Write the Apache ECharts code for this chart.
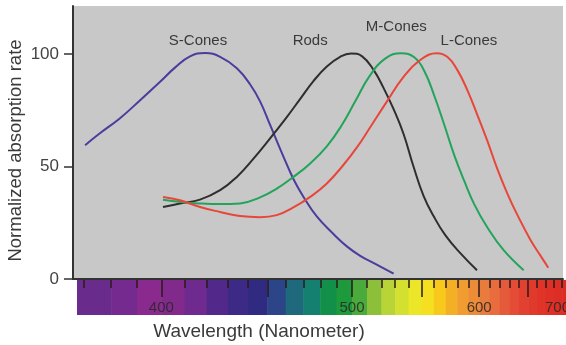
<!DOCTYPE html>
<html>
<head>
<meta charset="utf-8">
<style>
  html, body { margin: 0; padding: 0; background: #fff; }
  #chart { width: 566px; height: 345px; }
</style>
<script src="https://cdn.jsdelivr.net/npm/echarts@6/dist/echarts.min.js"></script>
</head>
<body>
<div id="chart"></div>
<script>
// wavelength (nm) -> absorption (%)
const sCones = [[370.3, 59.5], [375.7, 64.8], [383.3, 71.5], [391.2, 79.5], [399.4, 87.7], [405.7, 94], [412.3, 99],
  [419.1, 100.5], [426.2, 98.8], [434.3, 93.7], [441.0, 86.5], [446.1, 79], [451.4, 68.5], [458.7, 54.3],
  [464.2, 44.5], [470.0, 36.5], [477.8, 27.8], [488.0, 20], [496.5, 14.5], [505.3, 10.3], [516.3, 6.5], [528.7, 2.4]];
const rods = [[400.6, 32], [407.9, 33.6], [416.8, 35.3], [426.2, 39.5], [434.3, 45.4], [442.7, 53.5], [451.4, 62.5],
  [460.5, 72], [468.0, 80], [475.8, 88], [483.9, 94.5], [492.2, 98.8], [499.3, 100.3], [506.6, 99], [514.4, 93],
  [521.4, 85], [528.7, 75.5], [536.1, 64.5], [543.7, 50], [551.6, 37], [559.7, 28], [569.5, 19.5], [582.6, 11.5],
  [597.8, 3.9]];
const mCones = [[400.6, 35.2], [407.9, 34.3], [416.8, 33.6], [426.2, 33.3], [435.9, 33.6], [446.1, 36.3],
  [455.0, 40.2], [464.2, 45.4], [473.9, 51.4], [483.9, 59], [492.9, 68], [502.0, 79], [511.4, 90], [522.6, 98],
  [534.4, 100.4], [544.3, 98.6], [552.2, 92.5], [560.3, 81.5], [568.7, 68.5], [577.3, 55], [586.2, 43.5],
  [595.3, 33.2], [607.6, 23], [623.9, 12.8], [645.0, 3.9]];
const lCones = [[400.6, 36.5], [407.9, 35], [416.8, 32], [426.2, 29.8], [435.9, 28], [446.1, 27.5], [455.0, 28.4],
  [464.2, 31.8], [473.9, 36.5], [483.9, 42.5], [494.4, 50.8], [503.1, 58.5], [512.1, 67.5], [523.9, 79],
  [536.1, 89.9], [549.0, 97.4], [562.5, 100.4], [571.2, 98.8], [579.9, 93], [588.9, 84], [598.1, 73],
  [607.6, 61.5], [617.5, 49], [627.7, 38], [638.2, 28.5], [652.4, 17.5], [663.7, 10.5], [673.1, 5]];

// spectrum bar: 10 nm bands
const bandStarts = [360, 370, 380, 390, 400, 410, 420, 430, 440, 450, 460, 470, 480, 490, 500, 510, 520, 530,
  540, 550, 560, 570, 580, 590, 600, 610, 620, 630, 640, 650, 660, 670, 680, 690];
const bandColors = ['#6a2c8c', '#6a2c8c', '#742a8e', '#8a2a8e', '#822a8c', '#6e2a8e', '#52288a', '#3c2a86', '#302a80',
  '#2c4488', '#1e6a7c', '#148070', '#12904a', '#1e9a3c', '#4aaa3c', '#8cc03a', '#b8d436', '#d4e030',
  '#ece628', '#f4e020', '#f8c81c', '#f4b024', '#f09c30', '#ec8c38', '#e87c3c', '#e86c3e', '#e65a3c',
  '#e44c36', '#e24030', '#e03a2c', '#e03428', '#de3026', '#dc2e24', '#da2c22'];
const minorTicks = [370, 380, 390, 400, 410, 420, 430, 440, 450, 460, 470, 480, 490, 500, 510, 520, 530, 540,
  550, 560, 570, 580, 590, 600, 610, 620, 630, 640, 650, 660, 670, 680, 690];
const majorTicks = [400, 450, 500, 550, 600, 650, 700];
const xLabels = [400, 500, 600, 700];
const yLabels = [0, 50, 100];

// the x scale is linear in wavenumber, so plot -1e4/wavelength
const toK = l => -10000 / l;
const fromK = k => Math.round(-10000 / k);

const font = 'Liberation Sans, Arial, sans-serif';
const tickColor = '#2a1a1a';
const chart = echarts.init(document.getElementById('chart'));

const curve = (name, data, color, offset) => ({
  name: name,
  type: 'line',
  xAxisIndex: 0,
  yAxisIndex: 0,
  smooth: 0.45,
  symbol: 'none',
  data: data.map(p => [toK(p[0]), p[1]]),
  lineStyle: { color: color, width: 2 },
  itemStyle: { color: color },
  markPoint: {
    symbol: 'circle',
    symbolSize: 0,
    data: [{ type: 'max' }],
    label: {
      show: true,
      position: 'top',
      distance: 5,
      offset: offset,
      formatter: name,
      color: '#3a3a3a',
      fontSize: 15,
      fontFamily: font
    }
  }
});

chart.setOption({
  animation: false,
  grid: [
    { left: 73, right: 3, top: 6, bottom: 66, show: true, backgroundColor: '#c8c8c8', borderWidth: 0, outerBoundsMode: 'none' },
    { left: 77, right: -4, top: 280, height: 35, outerBoundsMode: 'none' }
  ],
  xAxis: [
    {
      type: 'value', gridIndex: 0, min: toK(366), max: toK(691),
      axisLine: { show: true, onZero: false, lineStyle: { color: '#333', width: 2 } },
      axisTick: { show: false }, axisLabel: { show: false }, splitLine: { show: false },
      name: 'Wavelength (Nanometer)', nameLocation: 'middle', nameGap: 43,
      nameTextStyle: { fontSize: 19, color: '#3a3a3a', fontFamily: font, padding: [0, 118, 0, 0] }
    },
    {
      type: 'value', gridIndex: 1, position: 'top', min: toK(367.5), max: toK(700), z: 10,
      axisLine: { show: false, onZero: false }, splitLine: { show: false }, axisLabel: { show: false },
      axisTick: { show: true, inside: true, length: 8, customValues: minorTicks.map(toK),
        lineStyle: { color: tickColor, width: 1.5 } }
    },
    {
      type: 'value', gridIndex: 1, position: 'top', min: toK(367.5), max: toK(700), z: 10,
      axisLine: { show: false, onZero: false }, splitLine: { show: false },
      axisTick: { show: true, inside: true, length: 17, customValues: majorTicks.map(toK),
        lineStyle: { color: tickColor, width: 1.5 } },
      axisLabel: { show: true, inside: true, margin: 20, customValues: xLabels.map(toK),
        formatter: v => String(fromK(v)), alignMaxLabel: 'right',
        fontSize: 15, color: 'rgba(40,40,40,0.85)', fontFamily: font }
    }
  ],
  yAxis: [
    {
      type: 'value', gridIndex: 0, min: 0, max: 121.4,
      axisLine: { show: true, onZero: false, lineStyle: { color: '#333', width: 2 } },
      axisTick: { show: true, length: 9, customValues: yLabels, lineStyle: { color: '#333', width: 1.5 } },
      axisLabel: { show: true, margin: 14, customValues: yLabels, fontSize: 17, color: '#444', fontFamily: font },
      splitLine: { show: false },
      name: 'Normalized absorption rate', nameLocation: 'middle', nameGap: 48, nameMoveOverlap: false,
      nameTextStyle: { fontSize: 18.5, color: '#3a3a3a', fontFamily: font, padding: [0, 16, 0, 0] }
    },
    { type: 'value', gridIndex: 1, min: 0, max: 1, show: false }
  ],
  series: [
    {
      type: 'custom',
      xAxisIndex: 1,
      yAxisIndex: 1,
      z: 0,
      clip: true,
      silent: true,
      encode: { x: [0, 1] },
      data: bandStarts.map((l, i) => ({ value: [toK(l), toK(l + 10)], itemStyle: { color: bandColors[i] } })),
      renderItem: (params, api) => {
        const a = api.coord([api.value(0), 1]);
        const b = api.coord([api.value(1), 0]);
        return {
          type: 'rect',
          shape: { x: a[0], y: a[1], width: b[0] - a[0] + 0.5, height: b[1] - a[1] },
          style: { fill: api.visual('color') }
        };
      }
    },
    curve('S-Cones', sCones, '#4a3d9c', [-7, 0]),
    curve('Rods', rods, '#2e2e2e', [-41, 0]),
    curve('M-Cones', mCones, '#22a45a', [-5, -14]),
    curve('L-Cones', lCones, '#e8463a', [32, 0])
  ]
});
</script>
</body>
</html>
